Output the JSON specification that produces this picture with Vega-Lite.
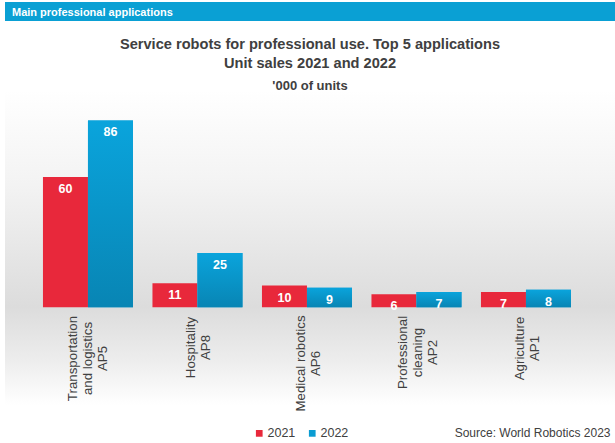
{
  "$schema": "https://vega.github.io/schema/vega-lite/v6.json",
  "background": "white",
  "padding": {"left": 5, "top": 2, "right": 0, "bottom": 0},
  "autosize": {"type": "pad"},
  "config": {
    "view": {"stroke": null},
    "font": "Liberation Sans"
  },
  "spacing": 15,
  "vconcat": [
    {
      "width": 610,
      "height": 19,
      "data": {"values": [{"band": "header"}]},
      "title": {
        "text": "Main professional applications",
        "anchor": "start",
        "orient": "top",
        "color": "#ffffff",
        "font": "Liberation Sans",
        "fontSize": 11,
        "fontWeight": "bold",
        "baseline": "top",
        "offset": -16,
        "dx": 7
      },
      "mark": {"type": "rect", "color": "#0aa0d4"},
      "encoding": {}
    },
    {
      "width": 610,
      "height": 315,
      "data": {
        "values": [
          {"app": "Transportation|and logistics|AP5", "year": "2021", "value": 60},
          {"app": "Transportation|and logistics|AP5", "year": "2022", "value": 86},
          {"app": "Hospitality|AP8", "year": "2021", "value": 11},
          {"app": "Hospitality|AP8", "year": "2022", "value": 25},
          {"app": "Medical robotics|AP6", "year": "2021", "value": 10},
          {"app": "Medical robotics|AP6", "year": "2022", "value": 9},
          {"app": "Professional|cleaning|AP2", "year": "2021", "value": 6},
          {"app": "Professional|cleaning|AP2", "year": "2022", "value": 7},
          {"app": "Agriculture|AP1", "year": "2021", "value": 7},
          {"app": "Agriculture|AP1", "year": "2022", "value": 8}
        ]
      },
      "title": {
        "text": ["Service robots for professional use. Top 5 applications", "Unit sales 2021 and 2022"],
        "subtitle": "'000 of units",
        "font": "Liberation Sans",
        "fontSize": 14.6,
        "fontWeight": "bold",
        "color": "#404040",
        "lineHeight": 19.5,
        "subtitleFont": "Liberation Sans",
        "subtitleFontSize": 13,
        "subtitleFontWeight": "bold",
        "subtitleColor": "#404040",
        "subtitlePadding": 9,
        "anchor": "middle",
        "offset": -3
      },
      "encoding": {
        "x": {
          "field": "app",
          "type": "nominal",
          "sort": null,
          "scale": {"paddingInner": 0.178, "paddingOuter": 0.3744, "align": 0.463},
          "axis": {
            "zindex": 1,
            "title": "Source: World Robotics 2023",
            "titleFont": "Liberation Sans",
            "titleFontSize": 12,
            "titleFontWeight": "normal",
            "titleColor": "#404040",
            "titleAnchor": "end",
            "titleAlign": "right",
            "titleBaseline": "alphabetic",
            "titleX": 605,
            "titleY": 129,
            "offset": -98,
            "domain": false,
            "ticks": false,
            "labelAngle": -90,
            "labelAlign": "center",
            "labelBaseline": "middle",
            "labelOverlap": false,
            "labelBound": false,
            "labelFlush": false,
            "labelFont": "Liberation Sans",
            "labelFontSize": 13.3,
            "labelColor": "#404040",
            "labelLineHeight": 15,
            "labelExpr": "split(datum.label, '|')",
            "labelOffset": {
              "condition": [
                {"test": "indexof(datum.value, 'Transportation') == 0", "value": -15},
                {"test": "indexof(datum.value, 'Professional') == 0", "value": -13}
              ],
              "value": -6
            },
            "labelPadding": {
              "condition": [
                {"test": "indexof(datum.value, 'Transportation') == 0", "value": 51},
                {"test": "indexof(datum.value, 'Hospitality') == 0", "value": 40},
                {"test": "indexof(datum.value, 'Medical') == 0", "value": 56},
                {"test": "indexof(datum.value, 'Professional') == 0", "value": 45}
              ],
              "value": 41
            }
          }
        }
      },
      "layer": [
        {
          "data": {"values": [{"band": "background"}]},
          "mark": {
            "type": "rect",
            "color": {
              "gradient": "linear",
              "x1": 0, "y1": 0, "x2": 0, "y2": 1,
              "stops": [
                {"offset": 0, "color": "#ffffff"},
                {"offset": 0.3, "color": "#f3f3f3"},
                {"offset": 0.69, "color": "#dcdcdc"},
                {"offset": 0.86, "color": "#ededed"},
                {"offset": 1, "color": "#ffffff"}
              ]
            }
          },
          "encoding": {"x": null}
        },
        {
          "mark": {"type": "bar"},
          "encoding": {
            "xOffset": {"field": "year", "type": "nominal", "scale": {"paddingInner": 0, "paddingOuter": 0}},
            "y": {"field": "value", "type": "quantitative", "scale": {"domain": [-45, 100], "nice": false}, "axis": null},
            "y2": {"datum": 0},
            "color": {
              "field": "year",
              "type": "nominal",
              "scale": {"domain": ["2021", "2022"], "range": ["#e8283b", "#0a9cd2"]},
              "legend": {
                "orient": "none",
                "legendX": 248,
                "legendY": 425,
                "direction": "horizontal",
                "title": null,
                "symbolType": "square",
                "symbolSize": 45,
                "symbolStrokeWidth": 0,
                "labelFont": "Liberation Sans",
                "labelFontSize": 12.5,
                "labelColor": "#404040",
                "labelOffset": 2,
                "columnPadding": 10,
                "padding": 0
              }
            }
          }
        },
        {
          "transform": [{"filter": "datum.year == '2022'"}],
          "mark": {
            "type": "bar",
            "color": {
              "gradient": "linear",
              "x1": 0, "y1": 0, "x2": 0, "y2": 1,
              "stops": [
                {"offset": 0, "color": "#0aa4dc"},
                {"offset": 1, "color": "#0885b4"}
              ]
            }
          },
          "encoding": {
            "xOffset": {"field": "year", "type": "nominal", "scale": {"paddingInner": 0, "paddingOuter": 0}},
            "y": {"field": "value", "type": "quantitative"},
            "y2": {"datum": 0}
          }
        },
        {
          "mark": {"type": "text", "color": "#ffffff", "font": "Liberation Sans", "fontSize": 12.5, "fontWeight": "bold", "baseline": "middle", "dy": 12},
          "encoding": {
            "xOffset": {"field": "year", "type": "nominal", "scale": {"paddingInner": 0, "paddingOuter": 0}},
            "y": {"field": "value", "type": "quantitative"},
            "text": {"field": "value", "type": "quantitative"}
          }
        }
      ]
    }
  ]
}
